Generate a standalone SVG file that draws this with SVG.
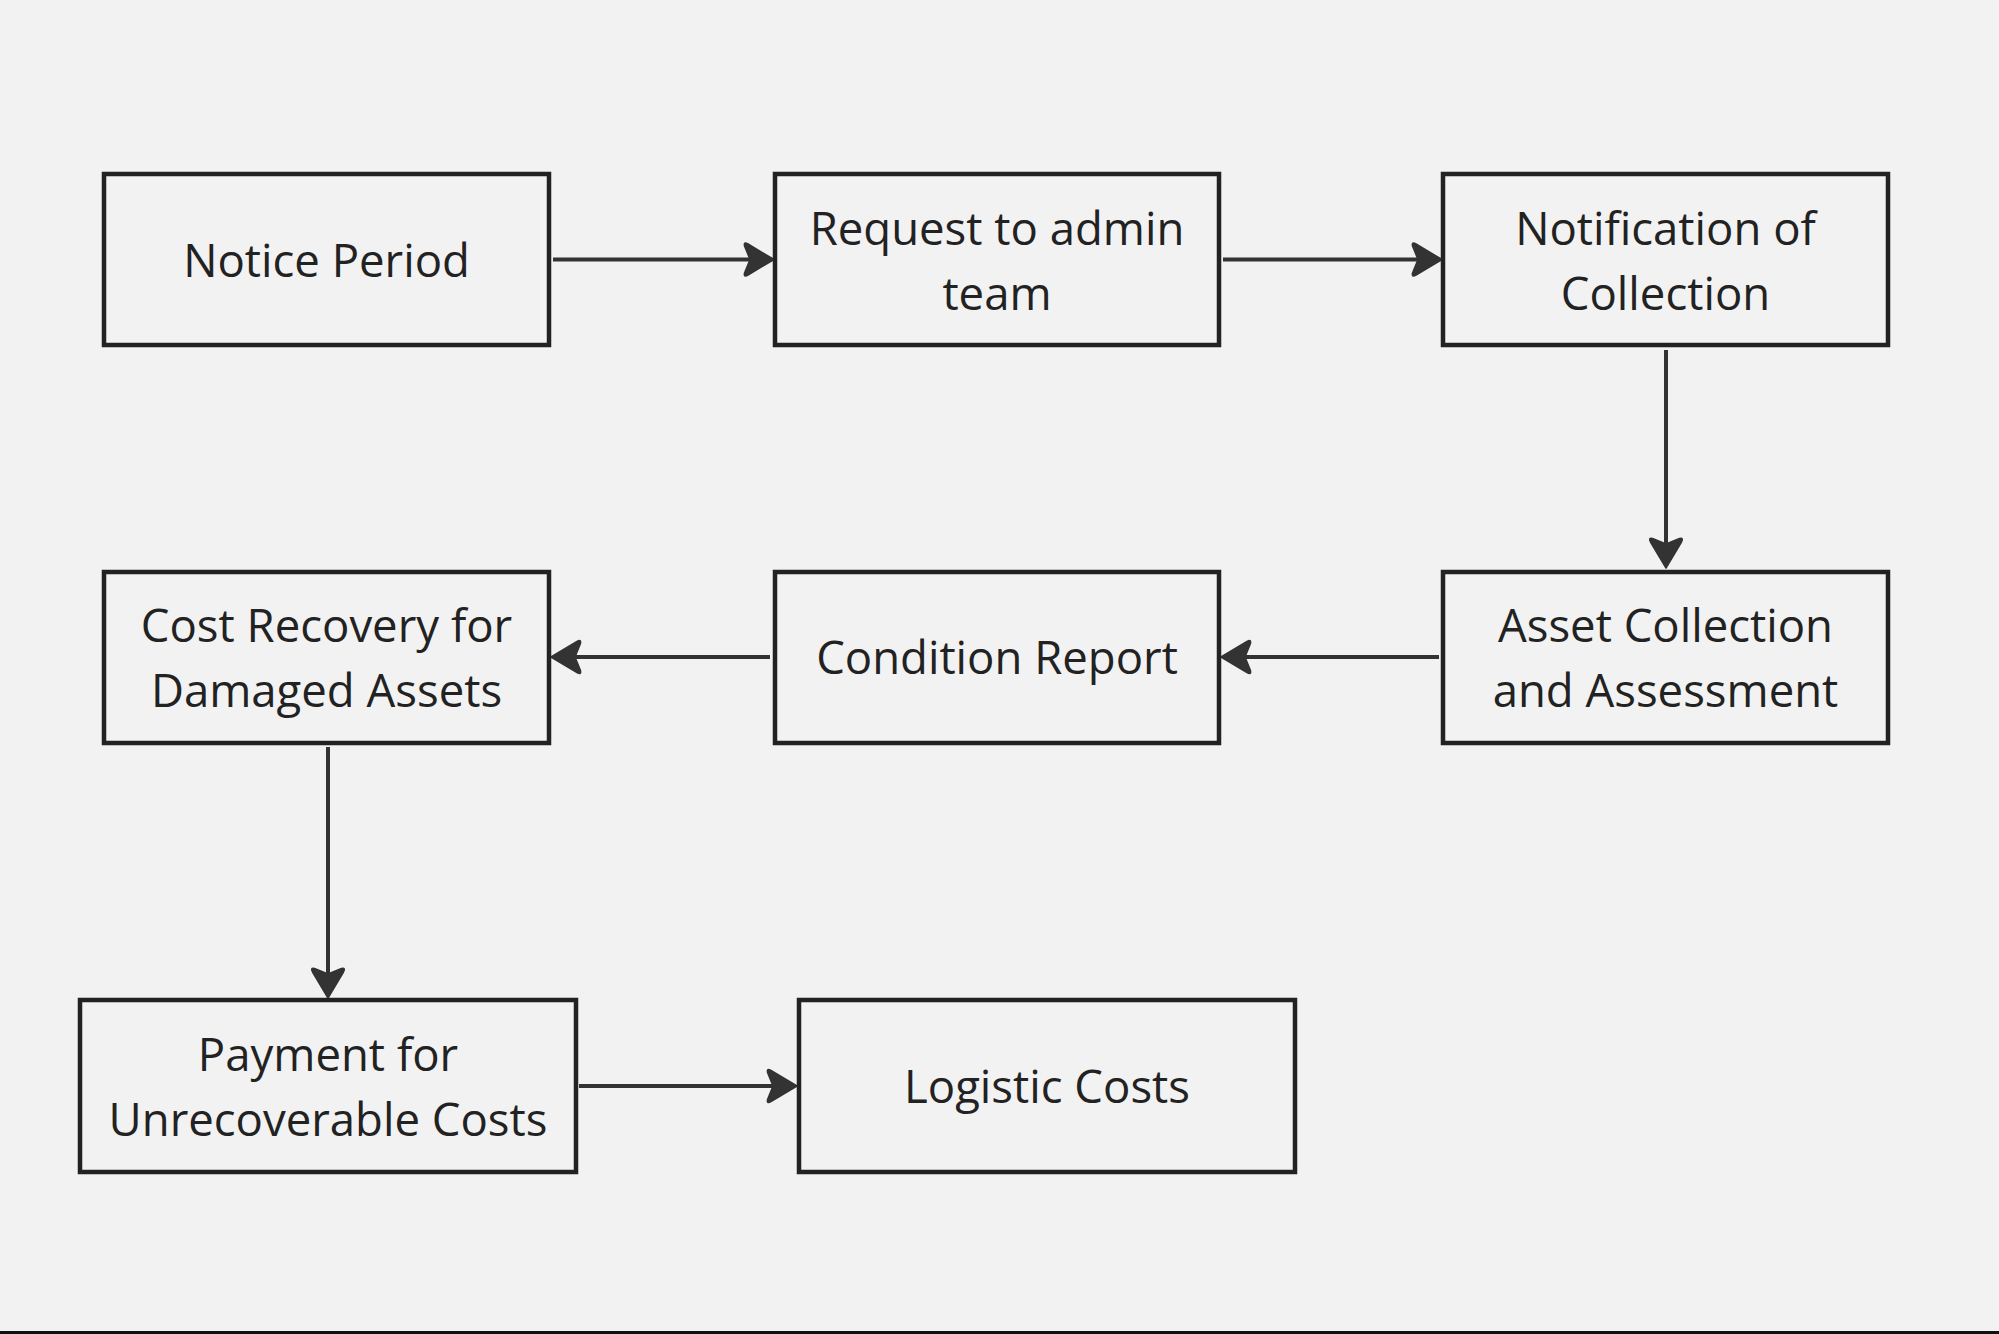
<svg xmlns="http://www.w3.org/2000/svg" width="1999" height="1334" viewBox="0 0 1999 1334">
  <style>
    .box { fill: #f2f2f2; stroke: #222222; stroke-width: 4.5; }
    .lbl { font-family: "Open Sans", "Noto Sans", "Liberation Sans", sans-serif; font-size: 45.5px; fill: #222222; text-anchor: middle; }
    .edge { fill: none; stroke: #333333; stroke-width: 4; }
  </style>
  <defs>
    <marker id="arrow" markerUnits="userSpaceOnUse" viewBox="-33 -19 35 38" markerWidth="35" markerHeight="38" refX="-10" refY="0" orient="auto">
      <path d="M0,0 L-26,-15.5 Q-30.5,-18 -29.5,-13.5 L-24,0 L-29.5,13.5 Q-30.5,18 -26,15.5 Z" fill="#333333" stroke="#333333" stroke-width="1.5" stroke-linejoin="round"/>
    </marker>
  </defs>
  <rect x="0" y="0" width="1999" height="1334" fill="#f2f2f2"/>
  <rect x="0" y="1331" width="1999" height="3" fill="#111111"/>

  <g id="connectors">
    <path class="edge" d="M553,259.5 H764" marker-end="url(#arrow)"/>
    <path class="edge" d="M1223,259.5 H1432" marker-end="url(#arrow)"/>
    <path class="edge" d="M1666,350 V558" marker-end="url(#arrow)"/>
    <path class="edge" d="M1439,657 H1231" marker-end="url(#arrow)"/>
    <path class="edge" d="M770,657 H561" marker-end="url(#arrow)"/>
    <path class="edge" d="M328,747 V988" marker-end="url(#arrow)"/>
    <path class="edge" d="M579,1086 H787" marker-end="url(#arrow)"/>
  </g>

  <g id="notice-period">
    <rect class="box" x="104" y="174" width="445" height="171"/>
    <text class="lbl" x="326.5" y="276.5">Notice Period</text>
  </g>
  <g id="request-admin">
    <rect class="box" x="775" y="174" width="444" height="171"/>
    <text class="lbl" x="997" y="244.5">Request to admin</text>
    <text class="lbl" x="997" y="309.5">team</text>
  </g>
  <g id="notification">
    <rect class="box" x="1443" y="174" width="445" height="171"/>
    <text class="lbl" x="1665.5" y="244.5">Notification of</text>
    <text class="lbl" x="1665.5" y="309.5">Collection</text>
  </g>
  <g id="asset-collection">
    <rect class="box" x="1443" y="572" width="445" height="171"/>
    <text class="lbl" x="1665.5" y="642">Asset Collection</text>
    <text class="lbl" x="1665.5" y="707">and Assessment</text>
  </g>
  <g id="condition-report">
    <rect class="box" x="775" y="572" width="444" height="171"/>
    <text class="lbl" x="997" y="674">Condition Report</text>
  </g>
  <g id="cost-recovery">
    <rect class="box" x="104" y="572" width="445" height="171"/>
    <text class="lbl" x="326.5" y="642">Cost Recovery for</text>
    <text class="lbl" x="326.5" y="707">Damaged Assets</text>
  </g>
  <g id="payment">
    <rect class="box" x="80" y="1000" width="496" height="172"/>
    <text class="lbl" x="328" y="1071">Payment for</text>
    <text class="lbl" x="328" y="1136">Unrecoverable Costs</text>
  </g>
  <g id="logistic-costs">
    <rect class="box" x="799" y="1000" width="496" height="172"/>
    <text class="lbl" x="1047" y="1103">Logistic Costs</text>
  </g>
</svg>
